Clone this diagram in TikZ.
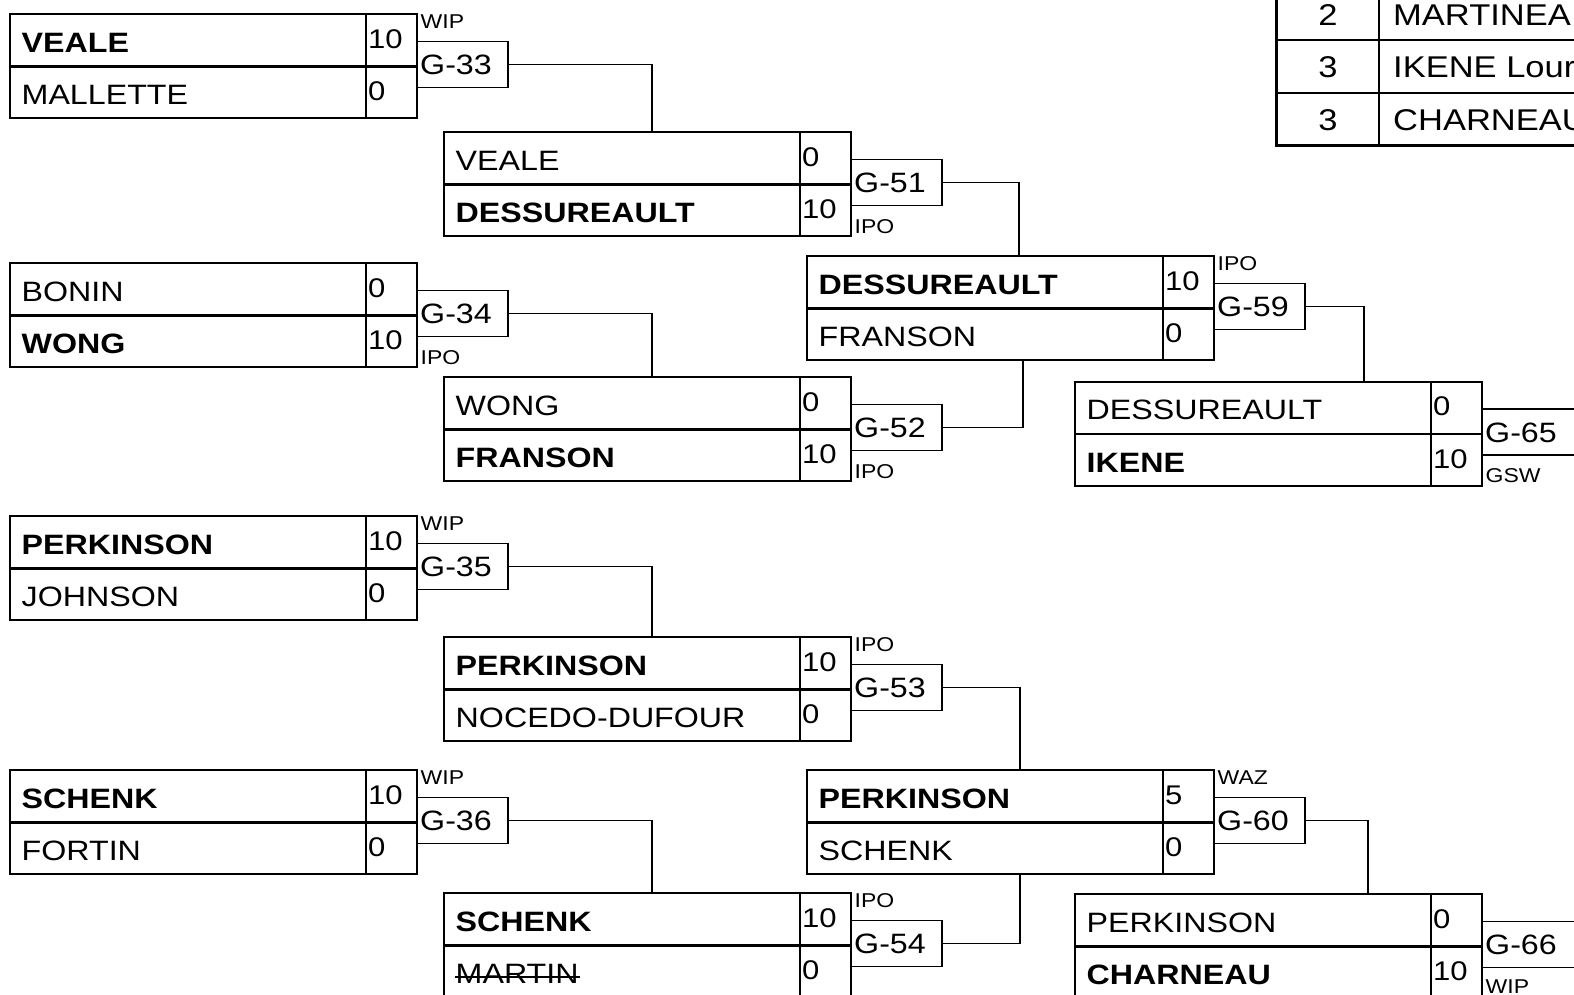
\documentclass[tikz,border=0pt]{standalone}
\usepackage{fontspec}
\setmainfont[FakeStretch=1.15]{Liberation Sans}
\usetikzlibrary{calc}
\tikzset{
  matchbox/.style={draw, line width=2pt, minimum width=407pt, minimum height=104pt, anchor=north west, inner sep=0pt, outer sep=0pt},
  gbox/.style={draw, line width=1.8pt, minimum width=91pt, minimum height=46pt, anchor=north west, inner sep=0pt, outer sep=0pt},
  pname/.style={anchor=base west, inner sep=0pt, font=\fontsize{28}{30}\selectfont},
  score/.style={anchor=base west, inner sep=0pt, font=\fontsize{27}{30}\selectfont},
  glabel/.style={anchor=base west, inner sep=0pt, font=\fontsize{28}{30}\selectfont},
  tag/.style={anchor=base west, inner sep=0pt, font=\fontsize{20}{21}\selectfont},
  tabtext/.style={anchor=base west, inner sep=0pt, font=\fontsize{30}{32}\selectfont},
  tabnum/.style={anchor=base, inner sep=0pt, font=\fontsize{30}{32}\selectfont},
  conn/.style={line width=1.7pt},
  divline/.style={line width=2.6pt},
  sepline/.style={line width=2pt},
}
% id, x, ytop, name1, score1, name2, score2, game
\newcommand\mymatch[8]{%
  \node[matchbox] (#1) at (#2,-#3) {};
  \draw[divline] (#2,-#3-52.5) -- (#2+407,-#3-52.5);
  \draw[sepline] ($(#1.north east)+(-51.5,0)$) -- ($(#1.south east)+(-51.5,0)$);
  \node[gbox] (#1g) at (#2+407,-#3-27.5) {};
  \node[pname] (#1-a) at (#2+11.5,-#3-38) {#4};
  \node[pname] (#1-b) at (#2+11.5,-#3-90.5) {#6};
  \node[score] (#1-sa) at (#2+358,-#3-34) {#5};
  \node[score] (#1-sb) at (#2+358,-#3-86.5) {#7};
  \node[glabel] (#1-gt) at (#2+410,-#3-60.5) {#8};
}
\newcommand\tagup[2]{\node[tag] (#1-tag) at ($(#1g.north west)+(3.5,13.4)$) {#2};}
\newcommand\tagdown[2]{\node[tag] (#1-tag) at ($(#1g.south west)+(3.5,-27.5)$) {#2};}
\begin{document}
\begin{tikzpicture}[x=1pt,y=1pt]
\useasboundingbox (0,0) rectangle (1574,-994);
\clip (0,0) rectangle (1574,-994);
\fill[white] (0,0) rectangle (1574,-994);

% Round 1
\mymatch{m33}{10}{14}{\bfseries VEALE}{10}{MALLETTE}{0}{G-33}
\tagup{m33}{WIP}
\mymatch{m34}{10}{263}{BONIN}{0}{\bfseries WONG}{10}{G-34}
\tagdown{m34}{IPO}
\mymatch{m35}{10}{516}{\bfseries PERKINSON}{10}{JOHNSON}{0}{G-35}
\tagup{m35}{WIP}
\mymatch{m36}{10}{770}{\bfseries SCHENK}{10}{FORTIN}{0}{G-36}
\tagup{m36}{WIP}

% Round 2
\mymatch{m51}{444}{132}{VEALE}{0}{\bfseries DESSUREAULT}{10}{G-51}
\tagdown{m51}{IPO}
\mymatch{m52}{444}{377}{WONG}{0}{\bfseries FRANSON}{10}{G-52}
\tagdown{m52}{IPO}
\mymatch{m53}{444}{637}{\bfseries PERKINSON}{10}{NOCEDO-DUFOUR}{0}{G-53}
\tagup{m53}{IPO}
\mymatch{m54}{444}{893}{\bfseries SCHENK}{10}{MARTIN}{0}{G-54}
\tagup{m54}{IPO}
\draw[line width=2pt] ($(m54-b.base west)+(-1,7)$) -- ($(m54-b.base east)+(1,7)$);

% Round 3
\mymatch{m59}{807}{256}{\bfseries DESSUREAULT}{10}{FRANSON}{0}{G-59}
\tagup{m59}{IPO}
\mymatch{m60}{807}{770}{\bfseries PERKINSON}{5}{SCHENK}{0}{G-60}
\tagup{m60}{WAZ}

% Round 4 (game boxes run past the right edge)
\begin{scope}[gbox/.append style={minimum width=130pt}]
\mymatch{m65}{1075}{381.5}{DESSUREAULT}{0}{\bfseries IKENE}{10}{G-65}
\tagdown{m65}{GSW}
\mymatch{m66}{1075}{894}{PERKINSON}{0}{\bfseries CHARNEAU}{10}{G-66}
\node[tag] (m66-tag) at ($(m66g.south west)+(3.5,-26)$) {WIP};
\end{scope}

% Connectors
\draw[conn] (m33g.east) -| ([xshift=4.5]m51.north);
\draw[conn] (m34g.east) -| ([xshift=4.5]m52.north);
\draw[conn] (m35g.east) -| ([xshift=4.5]m53.north);
\draw[conn] (m36g.east) -| ([xshift=4.5]m54.north);
\draw[conn] (m51g.east) -| ([xshift=8.5]m59.north);
\draw[conn] (m52g.east) -| ([xshift=12.5]m59.south);
\draw[conn] (m53g.east) -| ([xshift=9.5]m60.north);
\draw[conn] (m54g.east) -| ([xshift=9.5]m60.south);
\draw[conn] (m59g.east) -| ([xshift=85.5]m65.north);
\draw[conn] (m60g.east) -| ([xshift=89.5]m66.north);

% Ranking table (top right)
\draw[line width=3.5pt] (1276.7,10) -- (1276.7,-145.7) -- (1590,-145.7);
\draw[sepline] (1379.3,10) -- (1379.3,-145.7);
\draw[sepline] (1276.7,-40) -- (1590,-40);
\draw[sepline] (1276.7,-92.7) -- (1590,-92.7);
\node[tabnum] (r1n) at (1328,-25) {2};
\node[tabtext] (r1t) at (1393,-25) {MARTINEA};
\node[tabnum] (r2n) at (1328,-77.5) {3};
\node[tabtext] (r2t) at (1393,-77.5) {IKENE Lour};
\node[tabnum] (r3n) at (1328,-130.5) {3};
\node[tabtext] (r3t) at (1393,-130.5) {CHARNEAU};
\end{tikzpicture}
\end{document}
